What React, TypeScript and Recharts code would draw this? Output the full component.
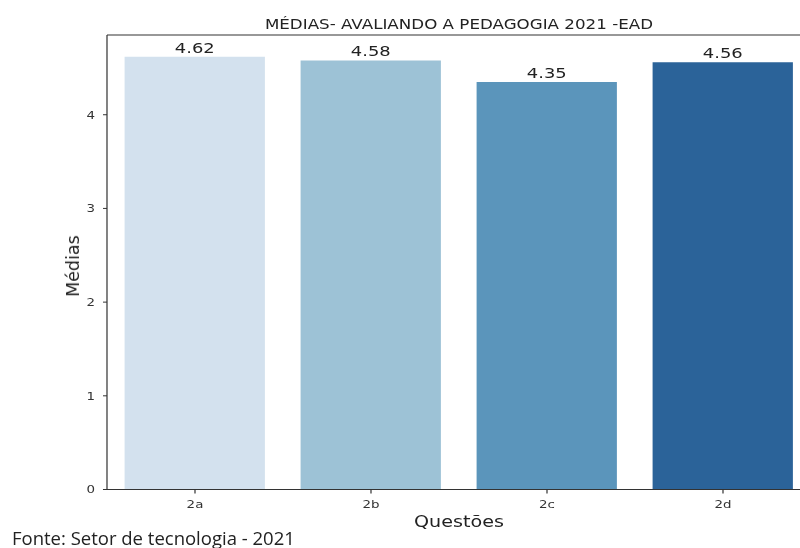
import React from 'react';
import { BarChart, Bar, XAxis, YAxis, Cell, LabelList, ReferenceLine } from 'recharts';

const categories = ['2a', '2b', '2c', '2d'];
const medias = [4.62, 4.58, 4.35, 4.56];
const barColors = ['#d3e1ee', '#9dc2d6', '#5b95bb', '#2b6399'];
const yTicks = [0, 1, 2, 3, 4];
const yMax = 4.851;

const data = categories.map((c, i) => ({ questao: c, media: medias[i] }));

const font = '"DejaVu Sans", sans-serif';
// the reference picture is stretched horizontally, so the chart is drawn narrower and scaled
const stretch = 1.22;

export default function App() {
  return (
    <div style={{ position: 'absolute', left: 0, top: 0, width: 800, height: 548, overflow: 'hidden', background: '#fff' }}>
      <div style={{ position: 'absolute', left: 0, top: 0, width: 672, height: 548, transform: `scaleX(${stretch})`, transformOrigin: '0 0' }}>
        <div style={{ position: 'absolute', left: 0, width: 752.4, top: 16, textAlign: 'center', fontFamily: font, fontSize: 13.7, lineHeight: '16px', color: '#222', whiteSpace: 'nowrap' }}>
          MÉDIAS- AVALIANDO A PEDAGOGIA 2021 -EAD
        </div>
        <BarChart
          width={672}
          height={548}
          data={data}
          margin={{ top: 35, right: 7.25, bottom: 28.5, left: 37.7 }}
          barCategoryGap="10%"
        >
          <XAxis
            dataKey="questao"
            height={30}
            tickSize={4}
            tickMargin={6.5}
            stroke="#333"
            tick={{ fill: '#333', fontSize: 11, fontFamily: font }}
            label={{ value: 'Questões', position: 'insideBottom', offset: -8, fill: '#222', fontSize: 15.7, fontFamily: font }}
          />
          <YAxis
            type="number"
            domain={[0, yMax]}
            ticks={yTicks}
            width={50}
            tickSize={3.3}
            tickMargin={6.5}
            stroke="#333"
            tick={{ fill: '#333', fontSize: 11, fontFamily: font }}
          />
          <ReferenceLine y={yMax} stroke="#333" />
          <Bar dataKey="media" isAnimationActive={false}>
            {data.map((d, i) => (
              <Cell key={d.questao} fill={barColors[i]} />
            ))}
            <LabelList
              dataKey="media"
              position="top"
              offset={4}
              formatter={(v: number) => v.toFixed(2)}
              style={{ fill: '#222', fontSize: 14.7, fontFamily: font }}
            />
          </Bar>
        </BarChart>
      </div>
      <div style={{ position: 'absolute', left: 72.5, top: 265.8, transform: 'translate(-50%, -50%) rotate(-90deg)', fontFamily: font, fontSize: 17.5, color: '#222', whiteSpace: 'nowrap' }}>
        Médias
      </div>
      <div style={{ position: 'absolute', left: 12, top: 524.5, fontFamily: '"Open Sans", sans-serif', fontSize: 18.5, color: '#222', whiteSpace: 'nowrap' }}>
        Fonte: Setor de tecnologia - 2021
      </div>
    </div>
  );
}
